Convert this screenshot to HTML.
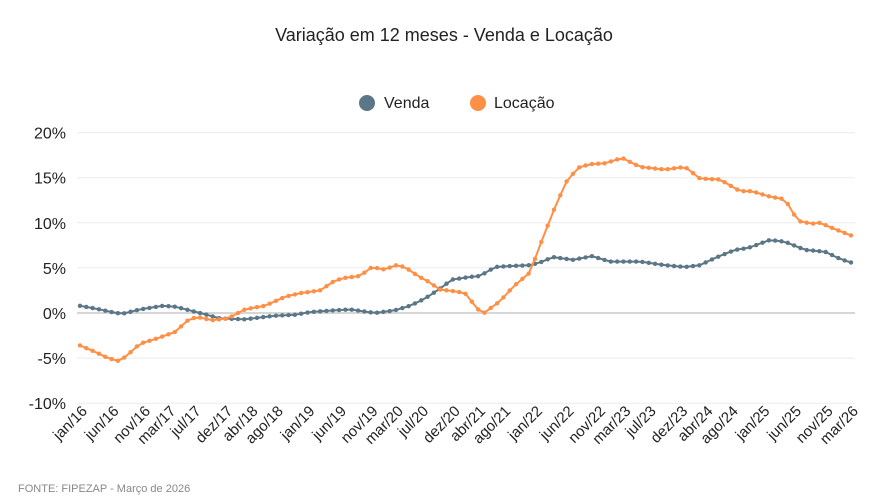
<!DOCTYPE html>
<html><head><meta charset="utf-8"><style>
body{margin:0;background:#fff;}
svg{display:block;font-family:"Liberation Sans",sans-serif;}
</style></head><body>
<svg id="s" width="889" height="500" xmlns="http://www.w3.org/2000/svg">
<rect width="889" height="500" fill="#fff"/>
<text x="444" y="41" text-anchor="middle" font-size="18" fill="#222">Variação em 12 meses - Venda e Locação</text>
<circle cx="367" cy="103" r="8" fill="#5b7686"/>
<text x="384" y="108" font-size="16" fill="#222">Venda</text>
<circle cx="478" cy="103" r="8" fill="#ff8f45"/>
<text x="494" y="108" font-size="16" fill="#222">Locação</text>
<g id="grid"></g>
<g id="series"></g>
<g id="xl"></g>
<text x="18" y="492" font-size="11" fill="#888">FONTE: FIPEZAP - Março de 2026</text>
</svg>
<script>
const NS="http://www.w3.org/2000/svg";
const s=document.getElementById('s');
function el(t,a,p,txt){const e=document.createElementNS(NS,t);for(const k in a)e.setAttribute(k,a[k]);if(txt!==undefined)e.textContent=txt;(p||s).appendChild(e);return e;}
const Y=v=>313-v*9.02;
const g=document.getElementById('grid');
for(let v=20;v>=-10;v-=5){const y=Y(v);
 el('line',{x1:77,x2:855,y1:y,y2:y,stroke:v==0?'#d6d6d6':'#ebebeb','stroke-width':v==0?2:1},g);
 el('text',{x:66,y:y+6,'text-anchor':'end','font-size':16,fill:'#222'},g,v+'%');}
const venda=[[80,0.8],[95,0.5],[112,0.1],[122,-0.1],[140,0.4],[163,0.8],[175,0.7],[200,0.0],[220,-0.6],[245,-0.7],[275,-0.3],[295,-0.2],[310,0.1],[335,0.3],[350,0.4],[375,0.0],[395,0.3],[410,0.8],[425,1.6],[440,2.7],[452,3.7],[470,4.0],[480,4.1],[495,5.1],[510,5.2],[530,5.3],[540,5.6],[553,6.2],[573,5.9],[592,6.3],[610,5.7],[640,5.7],[665,5.3],[685,5.1],[700,5.3],[715,6.1],[735,7.0],[748,7.2],[770,8.1],[785,7.9],[805,7.0],[825,6.8],[840,6.0],[851,5.6]];
const loc=[[80,-3.6],[95,-4.3],[108,-5.0],[118,-5.3],[125,-4.9],[140,-3.4],[155,-2.9],[175,-2.1],[190,-0.6],[200,-0.5],[212,-0.8],[228,-0.6],[245,0.4],[265,0.8],[285,1.8],[300,2.2],[320,2.5],[335,3.6],[345,3.9],[360,4.1],[372,5.1],[385,4.8],[395,5.3],[405,5.1],[418,4.1],[428,3.5],[440,2.6],[455,2.4],[465,2.2],[478,0.4],[485,0.0],[490,0.5],[500,1.3],[513,2.9],[530,4.5],[540,7.5],[553,11.2],[566,14.5],[578,16.1],[590,16.5],[605,16.6],[622,17.2],[640,16.2],[665,15.9],[685,16.2],[700,14.9],[720,14.8],[740,13.5],[752,13.5],[770,12.9],[785,12.6],[798,10.2],[812,9.9],[820,10.0],[835,9.3],[851,8.6]];
function interp(k,x){for(let i=0;i<k.length-1;i++){if(x<=k[i+1][0]){const t=(x-k[i][0])/(k[i+1][0]-k[i][0]);return k[i][1]+t*(k[i+1][1]-k[i][1]);}}return k[k.length-1][1];}
const ser=document.getElementById('series');
const step=771/122;
function draw(k,c){let pts=[];for(let i=0;i<123;i++){const x=80+i*step;pts.push([x,Y(interp(k,x))]);}
 el('polyline',{points:pts.map(p=>p[0].toFixed(1)+','+p[1].toFixed(1)).join(' '),fill:'none',stroke:c,'stroke-width':2},ser);
 pts.forEach(p=>el('circle',{cx:p[0],cy:p[1],r:2.2,fill:c},ser));}
draw(venda,'#5b7686');draw(loc,'#ff8f45');
const labs=[[0,'jan/16'],[5,'jun/16'],[10,'nov/16'],[14,'mar/17'],[18,'jul/17'],[23,'dez/17'],[27,'abr/18'],[31,'ago/18'],[36,'jan/19'],[41,'jun/19'],[46,'nov/19'],[50,'mar/20'],[54,'jul/20'],[59,'dez/20'],[63,'abr/21'],[67,'ago/21'],[72,'jan/22'],[77,'jun/22'],[82,'nov/22'],[86,'mar/23'],[90,'jul/23'],[95,'dez/23'],[99,'abr/24'],[103,'ago/24'],[108,'jan/25'],[113,'jun/25'],[118,'nov/25'],[122,'mar/26']];
const xl=document.getElementById('xl');
labs.forEach(([i,t])=>{const x=80+i*step+8,y=412;
 el('text',{x:x,y:y,'text-anchor':'end','font-size':15,fill:'#222',transform:`rotate(-45 ${x} ${y})`},xl,t);});
</script>
</body></html>
